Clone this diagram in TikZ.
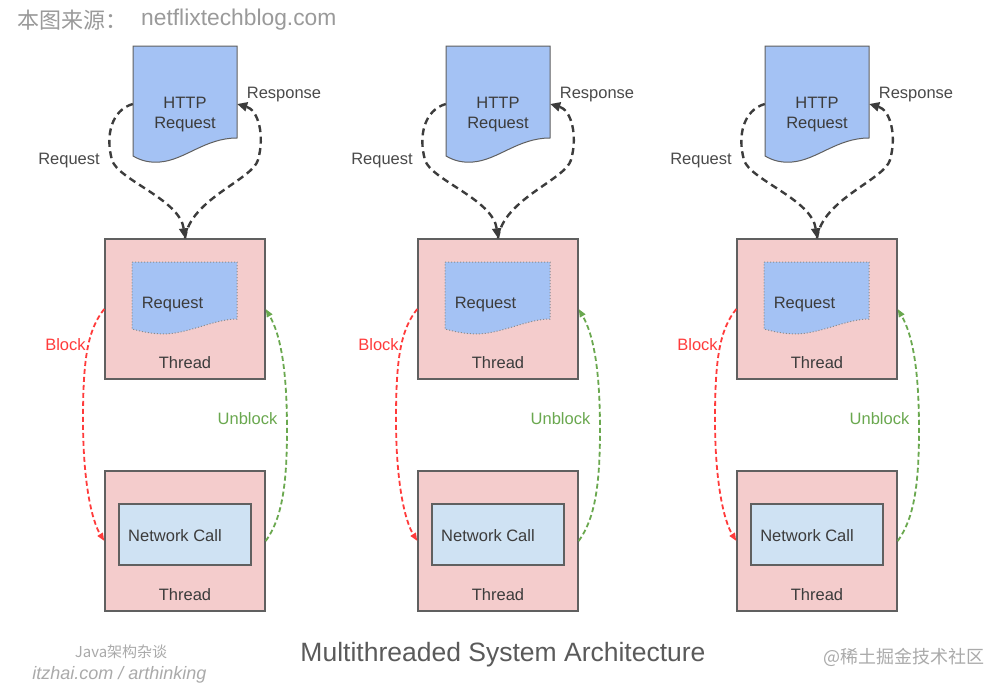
\documentclass[tikz,border=0pt]{standalone}
\usepackage{fontspec}
\setmainfont{Liberation Sans}
\newfontfamily\cjk{Noto Sans CJK SC}
\usetikzlibrary{arrows.meta}
\definecolor{pinkfill}{HTML}{F4CCCC}
\definecolor{bluefill}{HTML}{A4C2F4}
\definecolor{ltblue}{HTML}{CFE2F3}
\definecolor{edgec}{HTML}{606060}
\definecolor{txt}{HTML}{3C3C3C}
\definecolor{lbl}{HTML}{4A4A4A}
\definecolor{blockred}{HTML}{FF3B3B}
\definecolor{ubgreen}{HTML}{6AA84F}
\definecolor{wm}{HTML}{9A9A9A}
\definecolor{wmlight}{HTML}{AAAAAA}
\definecolor{titlec}{HTML}{5A5A5A}
\definecolor{dotc}{HTML}{8A8A8A}
\begin{document}
\begin{tikzpicture}[x=1pt,y=-1pt,
  threadbox/.style={draw=edgec, line width=1.4pt, fill=pinkfill, minimum width=160pt, minimum height=140pt, inner sep=0pt},
  netbox/.style={draw=edgec, line width=1.4pt, fill=ltblue, minimum width=132pt, minimum height=61pt, inner sep=0pt},
  carrier/.style={minimum width=104pt, minimum height=116pt, inner sep=0pt},
  docshape/.style={draw=edgec, line width=1pt, fill=bluefill},
  innerdoc/.style={draw=dotc, line width=1pt, dotted, fill=bluefill},
  body/.style={font=\fontsize{16.5}{20}\selectfont, text=txt, inner sep=0pt, align=center, anchor=base},
  lab/.style={font=\fontsize{16.5}{20}\selectfont, text=lbl, inner sep=0pt, anchor=base},
  grayarrow/.style={draw=txt, line width=2.4pt, dash pattern=on 7pt off 4.5pt, -{Triangle[length=10pt,width=9pt]}},
  redarrow/.style={draw=blockred, line width=1.8pt, dash pattern=on 5pt off 3pt, -{Triangle[length=8pt,width=6pt]}},
  greenarrow/.style={draw=ubgreen, line width=1.8pt, dash pattern=on 5pt off 3pt, -{Triangle[length=8pt,width=6pt]}},
]
\useasboundingbox (0,0) rectangle (1000,688);
\fill[white] (0,0) rectangle (1000,688);

\node[anchor=west, inner sep=0pt, text=wm, font=\cjk\fontsize{22}{26}\selectfont] (src) at (17,20) {本图来源：};
\node[anchor=west, inner sep=0pt, text=wm, font=\fontsize{22.8}{26}\selectfont] (srcurl) at (141,20) {netflixtechblog.com};

\foreach \i/\dx in {1/0,2/313,3/632}{
\begin{scope}[xshift=\dx pt]
  % thread boxes
  \node[threadbox] (th\i) at (185,309) {};
  \node[threadbox] (bth\i) at (185,541) {};
  \node[netbox] (nc\i) at (185,534.5) {};
  % HTTP request document
  \path[docshape] (133,46) -- (237,46) -- (237,138)
     .. controls (205,138) and (185,160) .. (160,162)
     .. controls (148,163) and (140,160) .. (133,156) -- cycle;
  \node[carrier] (doc\i) at (185,104) {};
  \node[body, anchor=center] (httpt\i) at (185,115) {HTTP\\Request};
  % inner request document
  \path[innerdoc] (132,262) -- (237,262) -- (237,319)
     .. controls (215,319) and (190,333) .. (165,334)
     .. controls (150,334) and (140,331) .. (132,329) -- cycle;
  \node[body] (rqt\i) at (172.5,308) {Request};
  \node[body] (tht\i) at (185,368) {Thread};
  \node[body] (nct\i) at (175,541) {Network Call};
  \node[body] (btht\i) at (185,600) {Thread};
  % waypoints
  \coordinate (rqw\i) at (112,160);
  \coordinate (rsw\i) at (258,160);
  \coordinate (blw\i) at (83,420);
  \coordinate (ubw\i) at (287,430);
  % connectors
  \draw[grayarrow] (doc\i.west) .. controls +(-21,6) and +(-7,-25) .. (rqw\i)
       .. controls +(6,20) and +(-5,-39) .. (th\i.north);
  \draw[grayarrow] (th\i.north) .. controls +(5,-39) and +(-6,20) .. (rsw\i)
       .. controls +(7,-25) and +(21,6) .. (doc\i.east);
  \draw[redarrow] (th\i.west) .. controls +(-17,21) and +(0,-60) .. (blw\i)
       .. controls +(0,60) and +(-13,-21) .. (bth\i.west);
  \draw[greenarrow] (bth\i.east) .. controls +(15,-21) and +(0,60) .. (ubw\i)
       .. controls +(0,-60) and +(15,26) .. (th\i.east);
  % labels
  \node[lab] (lrq\i) at (69,164) {Request};
  \node[lab] (lrs\i) at (284,98) {Response};
  \node[lab, text=blockred] (lbl\i) at (65.5,350) {Block};
  \node[lab, text=ubgreen] (lub\i) at (247.5,424) {Unblock};
\end{scope}
}

\node[inner sep=0pt, anchor=base, text=titlec, font=\fontsize{26.5}{30}\selectfont] (title) at (503,661) {Multithreaded System Architecture};
\node[inner sep=0pt, text=wmlight, font=\cjk\fontsize{15}{18}\selectfont] (wm1) at (121,652) {Java架构杂谈};
\node[inner sep=0pt, text=wmlight, font=\itshape\fontsize{18}{22}\selectfont] (wm2) at (119.5,675) {itzhai.com / arthinking};
\node[inner sep=0pt, text=wmlight, font=\cjk\fontsize{18}{22}\selectfont] (wm3) at (904,657) {@稀土掘金技术社区};
\end{tikzpicture}
\end{document}
